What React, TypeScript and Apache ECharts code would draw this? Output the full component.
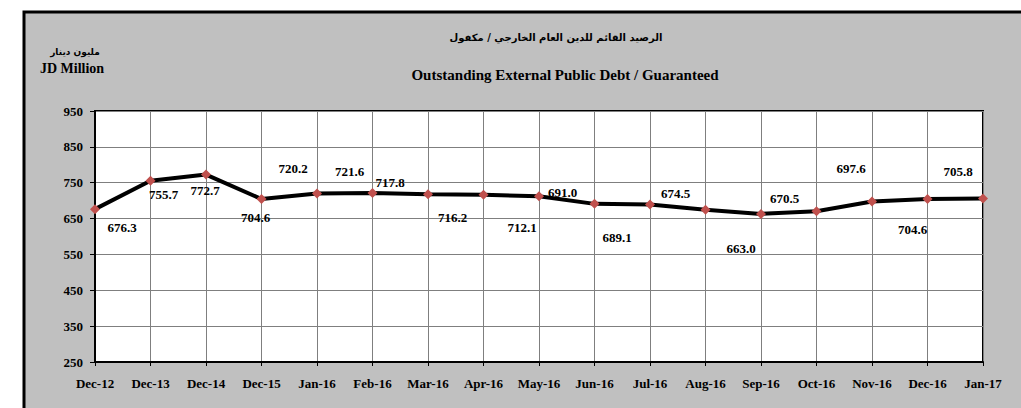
import React, { useEffect, useRef } from "react";
import * as echarts from "echarts";

const categories = [
  "Dec-12", "Dec-13", "Dec-14", "Dec-15", "Jan-16", "Feb-16", "Mar-16", "Apr-16",
  "May-16", "Jun-16", "Jul-16", "Aug-16", "Sep-16", "Oct-16", "Nov-16", "Dec-16", "Jan-17",
];
const values = [
  676.3, 755.7, 772.7, 704.6, 720.2, 721.6, 717.8, 716.2,
  712.1, 691.0, 689.1, 674.5, 663.0, 670.5, 697.6, 704.6, 705.8,
];
// label offsets (styling only) relative to each point
const labelOffsets: [number, number][] = [
  [27, 18], [13, 14], [-1, 16], [-6, 19], [-24, -25], [-23, -21], [-38, -12], [-31, 23],
  [-17, 31], [-32, -11], [-33, 33], [-30, -16], [-20, 35], [-32, -13], [-21, -33], [-15, 31], [-25, -27],
];
const yMin = 250;
const yMax = 950;
const yInterval = 100;
const titleAr = "الرصيد القائم للدين العام الخارجي / مكفول";
const titleEn = "Outstanding External Public Debt / Guaranteed";
const unitAr = "مليون دينار";
const unitEn = "JD Million";

const FONT = "Liberation Serif";
const FONT_AR = "DejaVu Sans";

export default function App() {
  const ref = useRef<HTMLDivElement>(null);
  useEffect(() => {
    document.body.style.margin = "0";
    const chart = echarts.init(ref.current!, undefined, { renderer: "svg" });
    chart.setOption({
      animation: false,
      backgroundColor: "#ffffff",
      textStyle: { fontFamily: FONT },
      graphic: [
        {
          type: "rect",
          z: -100,
          silent: true,
          shape: { x: 24, y: 12, width: 1100, height: 500 },
          style: { fill: "#C0C0C0", stroke: "#000", lineWidth: 3 },
        },
        {
          type: "text",
          x: 556,
          y: 37,
          style: {
            text: titleAr,
            fontFamily: FONT_AR,
            fontWeight: "bold",
            fontSize: 10,
            fill: "#000",
            align: "center",
            verticalAlign: "middle",
          },
        },
        {
          type: "text",
          x: 565,
          y: 75,
          style: {
            text: titleEn,
            fontFamily: FONT,
            fontWeight: "bold",
            fontSize: 15,
            fill: "#000",
            align: "center",
            verticalAlign: "middle",
          },
        },
        {
          type: "text",
          x: 75,
          y: 52,
          style: {
            text: unitAr,
            fontFamily: FONT_AR,
            fontWeight: "bold",
            fontSize: 9,
            fill: "#000",
            align: "center",
            verticalAlign: "middle",
          },
        },
        {
          type: "text",
          x: 72,
          y: 68,
          style: {
            text: unitEn,
            fontFamily: FONT,
            fontWeight: "bold",
            fontSize: 14,
            fill: "#000",
            align: "center",
            verticalAlign: "middle",
          },
        },
      ],
      grid: {
        left: 95,
        top: 111,
        right: 38,
        bottom: 46,
        show: true,
        backgroundColor: "#ffffff",
        borderColor: "#000",
        borderWidth: 2,
        containLabel: false,
      },
      xAxis: {
        type: "category",
        data: categories,
        boundaryGap: false,
        axisLine: { show: true, lineStyle: { color: "#000", width: 2 } },
        axisTick: { show: true, inside: false, length: 4, lineStyle: { color: "#000" } },
        splitLine: { show: true, lineStyle: { color: "#7f7f7f", width: 1 } },
        axisLabel: {
          interval: 0,
          margin: 15,
          fontFamily: FONT,
          fontWeight: "bold",
          fontSize: 13,
          color: "#000",
        },
      },
      yAxis: {
        type: "value",
        min: yMin,
        max: yMax,
        interval: yInterval,
        axisLine: { show: true, lineStyle: { color: "#000", width: 2 } },
        axisTick: { show: true, inside: false, length: 5, lineStyle: { color: "#000" } },
        splitLine: { show: true, lineStyle: { color: "#7f7f7f", width: 1 } },
        axisLabel: {
          margin: 12,
          fontFamily: FONT,
          fontWeight: "bold",
          fontSize: 13,
          color: "#000",
        },
      },
      series: [
        {
          type: "line",
          data: values.map((v, i) => ({
            value: v,
            label: { offset: labelOffsets[i] },
          })),
          lineStyle: { color: "#000", width: 4 },
          symbol: "diamond",
          symbolSize: 10,
          itemStyle: { color: "#C0504D", borderWidth: 0 },
          z: 5,
          label: {
            show: true,
            position: "inside",
            formatter: (p: any) => Number(p.value).toFixed(1),
            fontFamily: FONT,
            fontWeight: "bold",
            fontSize: 13,
            color: "#000",
            align: "center",
            verticalAlign: "middle",
          },
        },
      ],
    });
    return () => chart.dispose();
  }, []);
  return <div ref={ref} style={{ width: 1021, height: 408 }} />;
}
